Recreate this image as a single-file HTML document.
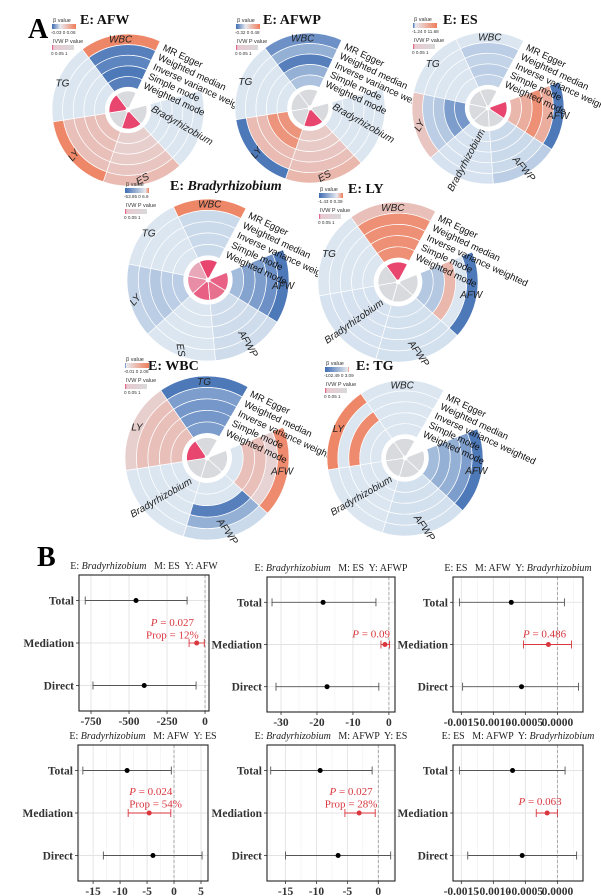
<!DOCTYPE html>
<html><head><meta charset="utf-8">
<style>
html,body{margin:0;padding:0;background:#fff;}
svg{display:block;}
</style></head>
<body>
<svg id="fig" width="601" height="896" viewBox="0 0 601 896" xmlns="http://www.w3.org/2000/svg">
<defs>
<linearGradient id="gIVW" x1="0" x2="1" y1="0" y2="0"><stop offset="0" stop-color="#e8456f"/><stop offset="0.08" stop-color="#e9c9d2"/><stop offset="1" stop-color="#d9d9d9"/></linearGradient>
</defs>
<text x="28" y="38" font-family="Liberation Serif" font-weight="bold" font-size="28">A</text>
<text x="37" y="566" font-family="Liberation Serif" font-weight="bold" font-size="28">B</text>
<g id="circles"></g>
<g id="forests"></g>
</svg>
<script>
// ===== Panel A data =====
const methods = ["MR Egger","Weighted median","Inverse variance weighted","Simple mode","Weighted mode"];
const c1_sectors = ["WBC","TG","LY","ES","Bradyrhizobium"];
const c1_beta = [[0.9,-0.85,-0.8,-0.9,-0.85],[0,0,0,0,0],[0.9,0.3,0.3,0.3,0.3],[0.35,0.25,0.2,0.15,0.15],[0,0,0,0,0]];
const c1_core = [0,1,0,1,0];
const c2_sectors = ["WBC","TG","LY","ES","Bradyrhizobium"];
const c2_beta = [[-0.7,-0.45,-0.85,-0.45,-0.3],[0,0,0,0,0],[-0.9,0.35,0.35,0.75,0.75],[0.4,0.3,0.25,0.2,0.2],[0,0,0,0,0]];
const c2_core = [0,0,0,1,0];
const c3_sectors = ["WBC","TG","LY","Bradyrhizobium","AFWP","AFW"];
const c3_beta = [[0,-0.2,-0.15,-0.2,-0.15],[0,0,0,0,0],[0.25,-0.2,-0.25,-0.6,-0.65],[-0.03,-0.03,-0.03,-0.03,-0.03],[-0.2,-0.1,-0.1,-0.1,-0.1],[-0.9,0.5,0.8,0.5,0.4]];
const c3_core = [0,0,0,0,0,1];
const c4_sectors = ["WBC","TG","LY","ES","AFWP","AFW"];
const c4_beta = [[0.9,-0.1,-0.1,-0.1,-0.1],[0,0,0,0,0],[-0.15,-0.2,-0.25,-0.2,-0.2],[0,0,0,0,0],[-0.08,-0.08,-0.08,-0.08,-0.08],[-0.9,-0.7,-0.6,-0.55,-0.35]];
const c4_core = [1,0.3,0.5,0.8,0.7,0.8];
const c5_sectors = ["WBC","TG","Bradyrhizobium","AFWP","AFW"];
const c5_beta = [[0.3,0.8,0.8,0.8,0.8],[0,0,0,0,0],[-0.03,-0.03,-0.03,-0.03,-0.03],[-0.05,-0.05,-0.05,-0.05,-0.05],[-0.9,0,0.4,-0.25,-0.25]];
const c5_core = [1,0,0,0,0];
const c6_sectors = ["TG","LY","Bradyrhizobium","AFWP","AFW"];
const c6_beta = [[-0.9,-0.6,-0.65,-0.65,-0.6],[0.15,0.3,0.3,0.3,0.3],[0,0,0,0,0],[-0.1,-0.45,-0.85,0,0],[0.85,0.1,0.3,0.3,0]];
const c6_core = [0,1,0,0,0];
const c7_sectors = ["WBC","LY","Bradyrhizobium","AFWP","AFW"];
const c7_beta = [[0,0,0,0,0],[0.9,0,0.85,0,0],[0,0,0,0,0],[-0.05,-0.05,-0.05,-0.05,-0.05],[-0.9,-0.6,-0.45,-0.45,-0.35]];
const c7_core = [0,0,0,0,0];
const legendTicks = [["-0.03","0","0.06"],["-0.32","0","0.48"],["-1.24","0","11.68"],["-53.95","0","6.6"],["-1.43","0","0.39"],["-0.01","0","2.08"],["-102.49","0","3.09"]];
const titles = ["AFW","AFWP","ES","Bradyrhizobium","LY","WBC","TG"];

const charts = [
 {cx:128,cy:110,R:76,g0:15,g1:65,sec:c1_sectors,beta:c1_beta,core:c1_core,rot:[0,0,50,30,-30],lx:52,ly:17,tx:80,ty:24,zero:0.35},
 {cx:310,cy:108,R:75,g0:15,g1:65,sec:c2_sectors,beta:c2_beta,core:c2_core,rot:[0,0,50,30,-30],lx:236,ly:17,tx:263,ty:24,zero:0.4},
 {cx:488,cy:108,R:76,g0:20,g1:62,sec:c3_sectors,beta:c3_beta,core:c3_core,rot:[0,0,60,62,-50,0],lx:413,ly:16,tx:443,ty:24,zero:0.1},
 {cx:208,cy:280,R:81,g0:22,g1:62,sec:c4_sectors,beta:c4_beta,core:c4_core,rot:[0,0,50,-80,-60,0],lx:125,ly:181,tx:170,ty:190,zero:0.85},
 {cx:398,cy:282,R:80,g0:22,g1:62,sec:c5_sectors,beta:c5_beta,core:c5_core,rot:[0,0,35,-55,0],lx:319,ly:186,tx:348,ty:193,zero:0.75},
 {cx:207,cy:458,R:82,g0:22,g1:60,sec:c6_sectors,beta:c6_beta,core:c6_core,rot:[0,0,30,-55,0],lx:125,ly:356,tx:148,ty:370,zero:0.05},
 {cx:405,cy:458,R:78,g0:22,g1:60,sec:c7_sectors,beta:c7_beta,core:c7_core,rot:[0,0,30,-55,0],lx:325,ly:360,tx:356,ty:370,zero:0.95}
];

const NS="http://www.w3.org/2000/svg";
function mk(tag,attrs,parent){const e=document.createElementNS(NS,tag);for(const k in attrs)e.setAttribute(k,attrs[k]);if(parent)parent.appendChild(e);return e;}
function mix(a,b,t){const pa=[parseInt(a.substr(1,2),16),parseInt(a.substr(3,2),16),parseInt(a.substr(5,2),16)];const pb=[parseInt(b.substr(1,2),16),parseInt(b.substr(3,2),16),parseInt(b.substr(5,2),16)];return "rgb("+pa.map((v,i)=>Math.round(v+(pb[i]-v)*t)).join(",")+")";}
function betaColor(v){if(v<0)return mix("#dbe6f1","#3e6db3",Math.min(1,-v));if(v>0)return mix("#e6dde2","#ef7d5a",Math.min(1,v));return "#dbe6f1";}
function coreColor(v){return v>0?mix("#e9d3da","#e8456f",v):"#d9dadd";}
function pt(cx,cy,r,a){const t=a*Math.PI/180;return [cx+r*Math.cos(t),cy-r*Math.sin(t)];}
function arcPath(cx,cy,r0,r1,a0,a1){const p1=pt(cx,cy,r1,a0),p2=pt(cx,cy,r1,a1),p3=pt(cx,cy,r0,a1),p4=pt(cx,cy,r0,a0);const lg=(a1-a0)>180?1:0;
 if(r0<=0)return `M${cx},${cy}L${p1}A${r1},${r1} 0 ${lg} 0 ${p2}Z`;
 return `M${p1}A${r1},${r1} 0 ${lg} 0 ${p2}L${p3}A${r0},${r0} 0 ${lg} 1 ${p4}Z`;}

const gC=document.getElementById('circles');
charts.forEach((c,ci)=>{
 const g=mk('g',{},gC);
 
 
 const n=c.sec.length, span=(360-(c.g1-c.g0))/n;
 const r0=0.30*c.R, rw=(c.R-r0)/5, rc=0.25*c.R;
 c.sec.forEach((s,si)=>{
  const a0=c.g1+si*span, a1=a0+span;
  for(let k=0;k<5;k++){
   const ro=c.R-k*rw, ri=ro-rw;
   const p=mk('path',{d:arcPath(c.cx,c.cy,ri,ro,a0,a1),fill:betaColor(c.beta[si][k]),stroke:'#fff','stroke-width':0.7},g);
   
   
  }
  const cp=mk('path',{d:arcPath(c.cx,c.cy,0,rc,a0,a1),fill:coreColor(c.core[si]),stroke:'#fff','stroke-width':0.8},g);
  
  
  const mid=(a0+a1)/2;
  const lr=s.length>6?c.R*0.74:c.R*0.93;
  const lp=pt(c.cx,c.cy,lr,mid);
  const t=mk('text',{x:lp[0],y:lp[1]+3,'text-anchor':'middle','font-family':'Liberation Sans','font-style':'italic','font-size':10,fill:'#222',transform:`rotate(${-c.rot[si]} ${lp[0]} ${lp[1]})`},g);
  t.textContent=s;
  
  
 });
 mk('circle',{cx:c.cx,cy:c.cy,r:(rc+r0)/2,fill:'none',stroke:'#fff','stroke-width':r0-rc},g);
 mk('circle',{cx:c.cx,cy:c.cy,r:2.5,fill:'#fff'},g);
 methods.forEach((m,k)=>{
  const rr=c.R-(k+0.5)*rw;
  const p=pt(c.cx,c.cy,rr,c.g1-2);
  const t=mk('text',{x:p[0]+2,y:p[1]+3,'font-family':'Liberation Sans','font-size':9.5,fill:'#111',transform:`rotate(25 ${p[0]+2} ${p[1]+3})`},g);
  t.textContent=m;
  
  
 });
 const tt=mk('text',{x:c.tx,y:c.ty,'font-family':'Liberation Serif','font-weight':'bold','font-size':14,fill:'#111'},g);
 
 
 const ts1=mk('tspan',{},tt); ts1.textContent='E: ';
 const ts2=mk('tspan',{},tt); ts2.textContent=titles[ci]; if(titles[ci]==='Bradyrhizobium')ts2.setAttribute('font-style','italic');
 const lg=mk('g',{},g);
 
 
 const gid='gb'+ci;
 const grad=mk('linearGradient',{id:gid,x1:0,x2:1,y1:0,y2:0},document.querySelector('defs'));
 mk('stop',{offset:0,'stop-color':'#3e6db3'},grad);
 mk('stop',{offset:c.zero,'stop-color':'#e8eaef'},grad);
 mk('stop',{offset:1,'stop-color':'#ef7d5a'},grad);
 const L=(txt,x,y,fs)=>{const e=mk('text',{x:x,y:y,'font-family':'Liberation Sans','font-size':fs,fill:'#333'},lg);e.textContent=txt;return e;};
 L('β value',c.lx+1,c.ly+5,5.5);
 mk('rect',{x:c.lx,y:c.ly+7,width:24,height:5,fill:`url(#${gid})`},lg);
 L(legendTicks[ci][0]+' '+legendTicks[ci][1]+'  '+legendTicks[ci][2],c.lx-1,c.ly+17,4.6);
 L('IVW P value',c.lx+1,c.ly+26,5.5);
 mk('rect',{x:c.lx,y:c.ly+28,width:22,height:5,fill:'url(#gIVW)'},lg);
 L('0 0.05    1',c.lx-1,c.ly+38,4.6);
});

// ===== Panel B data =====
const cats = ["Total","Mediation","Direct"];
const f1_est=[-454,-55,-400], f1_lo=[-788,-105,-737], f1_hi=[-118,-5,-59], f1_ticks=[-750,-500,-250,0], f1_labels=["-750","-500","-250","0"];
const f2_est=[-18.3,-1.1,-17.2], f2_lo=[-32.5,-2.2,-31.4], f2_hi=[-3.6,0.2,-2.8], f2_ticks=[-30,-20,-10,0], f2_labels=["-30","-20","-10","0"];
const f3_est=[-0.00072,-0.00014,-0.00056], f3_lo=[-0.00153,-0.00053,-0.00148], f3_hi=[0.00011,0.00022,0.00033], f3_ticks=[-0.0015,-0.001,-0.0005,0], f3_labels=["-0.0015","-0.0010","-0.0005","0.0000"];
const f4_est=[-8.7,-4.6,-3.9], f4_lo=[-16.9,-8.5,-13.1], f4_hi=[-0.5,-0.6,5.2], f4_ticks=[-15,-10,-5,0,5], f4_labels=["-15","-10","-5","0","5"];
const f5_est=[-9.4,-3.1,-6.5], f5_lo=[-17.4,-5.4,-15], f5_hi=[-1,-0.5,2], f5_ticks=[-15,-10,-5,0], f5_labels=["-15","-10","-5","0"];
const f6_est=[-0.0007,-0.00016,-0.00055], f6_lo=[-0.00153,-0.00033,-0.0014], f6_hi=[0.00012,0.0,0.0003], f6_ticks=[-0.0015,-0.001,-0.0005,0], f6_labels=["-0.0015","-0.0010","-0.0005","0.0000"];

const forests=[
 {x0:79,x1:209,y0:575,y1:711,dom:[-829,26],est:f1_est,lo:f1_lo,hi:f1_hi,ticks:f1_ticks,labels:f1_labels,E:"Bradyrhizobium",M:"ES",Y:"AFW",ann:{p:"0.027",prop:"12%",x:-215,anchor:'middle',dy:-17}},
 {x0:267,x1:395,y0:577,y1:712,dom:[-33.9,1.7],est:f2_est,lo:f2_lo,hi:f2_hi,ticks:f2_ticks,labels:f2_labels,E:"Bradyrhizobium",M:"ES",Y:"AFWP",ann:{p:"0.09",x:0.3,anchor:'end',dy:-7}},
 {x0:453,x1:583,y0:577,y1:712,dom:[-0.00163,0.0004],est:f3_est,lo:f3_lo,hi:f3_hi,ticks:f3_ticks,labels:f3_labels,E:"ES",M:"AFW",Y:"Bradyrhizobium",ann:{p:"0.486",x:-0.0002,anchor:'middle',dy:-7}},
 {x0:78,x1:208,y0:745,y1:881,dom:[-17.8,6.3],est:f4_est,lo:f4_lo,hi:f4_hi,ticks:f4_ticks,labels:f4_labels,E:"Bradyrhizobium",M:"AFW",Y:"ES",ann:{p:"0.024",prop:"54%",x:-8.3,anchor:'start',dy:-18}},
 {x0:267,x1:395,y0:745,y1:881,dom:[-18,2.7],est:f5_est,lo:f5_lo,hi:f5_hi,ticks:f5_ticks,labels:f5_labels,E:"Bradyrhizobium",M:"AFWP",Y:"ES",ann:{p:"0.027",prop:"28%",x:-4.4,anchor:'middle',dy:-18}},
 {x0:453,x1:583,y0:745,y1:881,dom:[-0.00163,0.0004],est:f6_est,lo:f6_lo,hi:f6_hi,ticks:f6_ticks,labels:f6_labels,E:"ES",M:"AFWP",Y:"Bradyrhizobium",ann:{p:"0.063",x:-0.00027,anchor:'middle',dy:-8}}
];
const gF=document.getElementById('forests');
forests.forEach((f,fi)=>{
 const g=mk('g',{},gF);
 
 
 const X=v=>f.x0+(v-f.dom[0])/(f.dom[1]-f.dom[0])*(f.x1-f.x0);
 const h=f.y1-f.y0;
 const Y=k=>f.y0+h*(k+0.6)/3.2;
 const step=f.ticks[1]-f.ticks[0];
 for(let v=f.ticks[0]-step;v<=f.dom[1]+step;v+=step/2){
  const x=X(v); if(x<=f.x0||x>=f.x1)continue;
  const major=f.ticks.some(t=>Math.abs(t-v)<step*0.01);
  mk('line',{x1:x,x2:x,y1:f.y0,y2:f.y1,stroke:major?'#e3e3e3':'#f1f1f1','stroke-width':major?0.9:0.6},g);
 }
 cats.forEach((c,k)=>mk('line',{x1:f.x0,x2:f.x1,y1:Y(k),y2:Y(k),stroke:'#e3e3e3','stroke-width':0.9},g));
 const z=mk('line',{x1:X(0),x2:X(0),y1:f.y0,y2:f.y1,stroke:'#999','stroke-width':0.8,'stroke-dasharray':'3,2'},g);
 
 
 cats.forEach((c,k)=>{
  const col=k===1?'#d9363e':'#555';
  const y=Y(k);
  const eb=mk('g',{},g);
  
  
  mk('line',{x1:X(f.lo[k]),x2:X(f.hi[k]),y1:y,y2:y,stroke:col,'stroke-width':0.9},eb);
  mk('line',{x1:X(f.lo[k]),x2:X(f.lo[k]),y1:y-4,y2:y+4,stroke:col,'stroke-width':0.9},eb);
  mk('line',{x1:X(f.hi[k]),x2:X(f.hi[k]),y1:y-4,y2:y+4,stroke:col,'stroke-width':0.9},eb);
  const p=mk('circle',{cx:X(f.est[k]),cy:y,r:2.5,fill:k===1?'#d9363e':'#000'},g);
  
  
  mk('line',{x1:f.x0-3,x2:f.x0,y1:y,y2:y,stroke:'#333','stroke-width':0.8},g);
  const t=mk('text',{x:f.x0-5,y:y+4,'text-anchor':'end','font-family':'Liberation Serif','font-weight':'bold','font-size':11.5,fill:'#333'},g);
  t.textContent=c;
  
  
 });
 const b=mk('rect',{x:f.x0,y:f.y0,width:f.x1-f.x0,height:h,fill:'none',stroke:'#222','stroke-width':1.1},g);
 
 
 f.ticks.forEach((v,i)=>{
  const x=X(v);
  mk('line',{x1:x,x2:x,y1:f.y1,y2:f.y1+3,stroke:'#333','stroke-width':0.8},g);
  const t=mk('text',{x:x,y:f.y1+14,'text-anchor':'middle','font-family':'Liberation Serif','font-weight':'bold','font-size':11.5,fill:'#333'},g);
  t.textContent=f.labels[i];
  
  
 });
 const tt=mk('text',{x:(f.x0+f.x1)/2,y:f.y0-6,'text-anchor':'middle','font-family':'Liberation Serif','font-size':10,fill:'#222',style:'white-space:pre'},g);
 
 
 const parts=[["E: ",0],[f.E,f.E==="Bradyrhizobium"],["   M: "+f.M+"  Y: ",0],[f.Y,f.Y==="Bradyrhizobium"]];
 parts.forEach(p=>{const s=mk('tspan',{},tt);s.textContent=p[0];if(p[1])s.setAttribute('font-style','italic');});
 const a=f.ann, ay=Y(1)+a.dy;
 const at=mk('text',{x:X(a.x),y:ay,'text-anchor':a.anchor,'font-family':'Liberation Serif','font-size':11,fill:'#d9363e'},g);
 
 
 const s1=mk('tspan',{'font-style':'italic'},at); s1.textContent='P';
 const s2=mk('tspan',{},at); s2.textContent=' = '+a.p;
 if(a.prop){
  const pt2=mk('text',{x:X(a.x),y:ay+12.5,'text-anchor':a.anchor,'font-family':'Liberation Serif','font-size':11,fill:'#d9363e'},g);
  pt2.textContent='Prop = '+a.prop;
  
  
 }
});
</script>
</body></html>
